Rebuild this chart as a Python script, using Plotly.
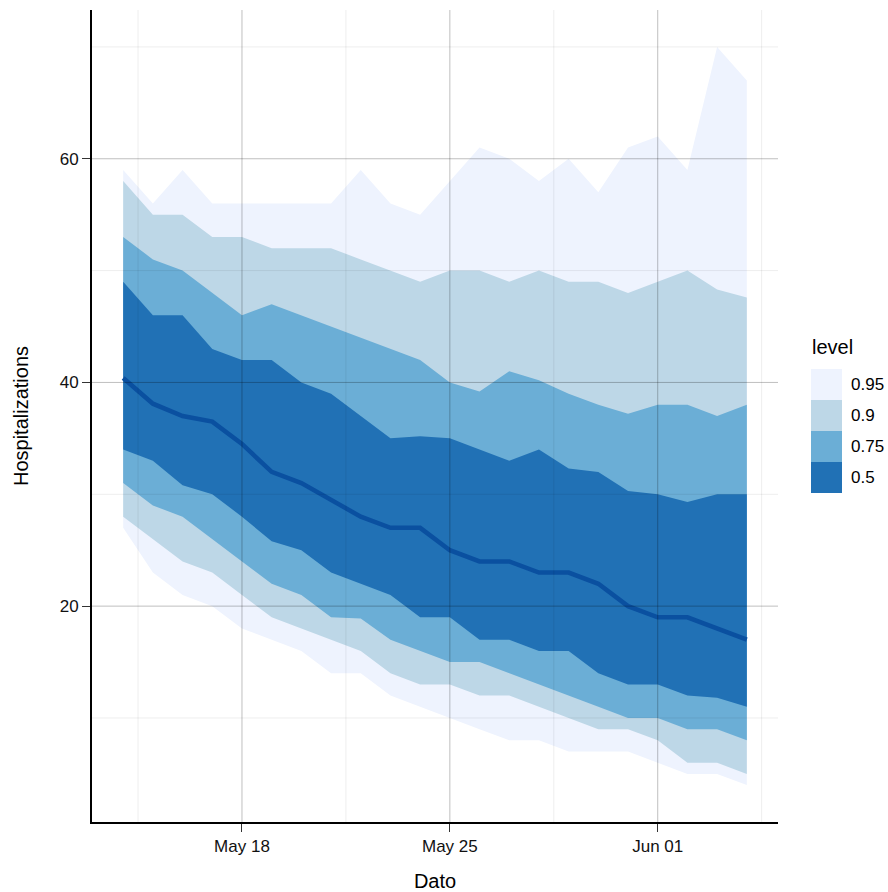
import pandas as pd
import plotly.graph_objects as go

# ---------------- data ----------------
dates = pd.date_range("2020-05-14", "2020-06-04", freq="D")

median = [40.4, 38.1, 37.0, 36.5, 34.5, 32.0, 31.0, 29.5, 28.0, 27.0, 27.0,
          25.0, 24.0, 24.0, 23.0, 23.0, 22.0, 20.0, 19.0, 19.0, 18.0, 17.0]

lo50 = [34, 33, 30.8, 30, 28, 25.8, 25, 23, 22, 21, 19, 19, 17, 17, 16, 16, 14, 13, 13, 12, 11.8, 11]
hi50 = [49, 46, 46, 43, 42, 42, 40, 39, 37, 35, 35.2, 35, 34, 33, 34, 32.3, 32, 30.3, 30, 29.3, 30, 30]

lo75 = [31, 29, 28, 26, 24, 22, 21, 19, 18.9, 17, 16, 15, 15, 14, 13, 12, 11, 10, 10, 9, 9, 8]
hi75 = [53, 51, 50, 48, 46, 47, 46, 45, 44, 43, 42, 40, 39.2, 41, 40.2, 39, 38, 37.2, 38, 38, 37, 38]

lo90 = [28, 26, 24, 23, 21, 19, 18, 17, 16, 14, 13, 13, 12, 12, 11, 10, 9, 9, 8, 6, 6, 5]
hi90 = [58, 55, 55, 53, 53, 52, 52, 52, 51, 50, 49, 50, 50, 49, 50, 49, 49, 48, 49, 50, 48.3, 47.6]

lo95 = [27, 23, 21, 20, 18, 17, 16, 14, 14, 12, 11, 10, 9, 8, 8, 7, 7, 7, 6, 5, 5, 4]
hi95 = [59, 56, 59, 56, 56, 56, 56, 56, 59, 56, 55, 58, 61, 60, 58, 60, 57, 61, 62, 59, 70, 67]

levels = ["0.95", "0.9", "0.75", "0.5"]
level_colors = ["#EEF3FE", "#BDD7E7", "#6BAED6", "#2171B5"]
bands = [(lo95, hi95), (lo90, hi90), (lo75, hi75), (lo50, hi50)]

x_major = pd.to_datetime(["2020-05-18", "2020-05-25", "2020-06-01"])
x_major_labels = ["May 18", "May 25", "Jun 01"]
x_minor = pd.to_datetime(["2020-05-14 12:00", "2020-05-21 12:00",
                          "2020-05-28 12:00", "2020-06-04 12:00"])
y_major = [20, 40, 60]
y_minor = [10, 30, 50, 70]

# ---------------- figure ----------------
FONT = "Liberation Sans, Arial, Helvetica, sans-serif"
fig = go.Figure()

xs = list(dates)
for (lo, hi), lvl, col in zip(bands, levels, level_colors):
    fig.add_trace(go.Scatter(
        x=xs + xs[::-1], y=list(hi) + list(lo)[::-1],
        fill="toself", fillcolor=col, mode="lines",
        line=dict(width=0, color=col), name=lvl,
        hoverinfo="skip", showlegend=False))

fig.add_trace(go.Scatter(x=xs, y=median, mode="lines",
                         line=dict(color="#0A50A0", width=4.5),
                         showlegend=False, hoverinfo="skip"))

# axis ranges with ggplot-like 5% expansion
xpad = (dates[-1] - dates[0]) * 0.05
ymin = min(lo95); ymax = max(hi95)
ypad = (ymax - ymin) * 0.05

shapes = []
# gridlines drawn above the ribbons (as in the reference)
for v in x_minor:
    shapes.append(dict(type="line", xref="x", yref="paper", x0=v, x1=v, y0=0, y1=1,
                       line=dict(color="rgba(0,0,0,0.07)", width=1), layer="above"))
for v in y_minor:
    shapes.append(dict(type="line", xref="paper", yref="y", x0=0, x1=1, y0=v, y1=v,
                       line=dict(color="rgba(0,0,0,0.07)", width=1), layer="above"))
for v in x_major:
    shapes.append(dict(type="line", xref="x", yref="paper", x0=v, x1=v, y0=0, y1=1,
                       line=dict(color="rgba(0,0,0,0.25)", width=1), layer="above"))
for v in y_major:
    shapes.append(dict(type="line", xref="paper", yref="y", x0=0, x1=1, y0=v, y1=v,
                       line=dict(color="rgba(0,0,0,0.25)", width=1), layer="above"))

# custom legend (ggplot-style stacked keys)
W, H = 888, 892
ml, mr, mt, mb = 92, 110, 10, 70
pw, ph = W - ml - mr, H - mt - mb


def px(xp):
    return (xp - ml) / pw


def py(yp):
    return (H - mb - yp) / ph


key_top, key_h = 369, 31
annotations = [dict(text="level", x=px(810), y=py(347), xref="paper", yref="paper",
                    xanchor="left", yanchor="middle", showarrow=False,
                    font=dict(family=FONT, size=20, color="#000"))]
for i, (lvl, col) in enumerate(zip(levels, level_colors)):
    t = key_top + i * key_h
    shapes.append(dict(type="rect", xref="paper", yref="paper",
                       x0=px(811), x1=px(842), y0=py(t + key_h), y1=py(t),
                       fillcolor=col, line=dict(width=0)))
    annotations.append(dict(text=lvl, x=px(849), y=py(t + key_h / 2),
                            xref="paper", yref="paper", xanchor="left",
                            yanchor="middle", showarrow=False,
                            font=dict(family=FONT, size=17, color="#000")))

fig.update_layout(
    width=W, height=H,
    margin=dict(l=ml, r=mr, t=mt, b=mb),
    paper_bgcolor="white", plot_bgcolor="white",
    font=dict(family=FONT, size=17, color="#000"),
    shapes=shapes, annotations=annotations,
    showlegend=False,
    xaxis=dict(range=[dates[0] - xpad, dates[-1] + xpad],
               tickvals=x_major, ticktext=x_major_labels,
               showgrid=False, zeroline=False, automargin=False,
               showline=True, linecolor="black", linewidth=2,
               ticks="outside", ticklen=8, tickwidth=1, tickcolor="#333",
               tickfont=dict(size=17, color="#111"),
               title=dict(text="Dato", font=dict(size=20), standoff=26)),
    yaxis=dict(range=[ymin - ypad, ymax + ypad],
               tickvals=y_major,
               showgrid=False, zeroline=False, automargin=False,
               showline=True, linecolor="black", linewidth=2,
               ticks="outside", ticklen=8, tickwidth=1, tickcolor="#333",
               tickfont=dict(size=17, color="#111"),
               title=dict(text="Hospitalizations", font=dict(size=20), standoff=26)),
)

fig.write_html("out.html", config={"displayModeBar": False},
               post_script="document.body.style.margin='0';document.body.style.overflow='hidden';")
